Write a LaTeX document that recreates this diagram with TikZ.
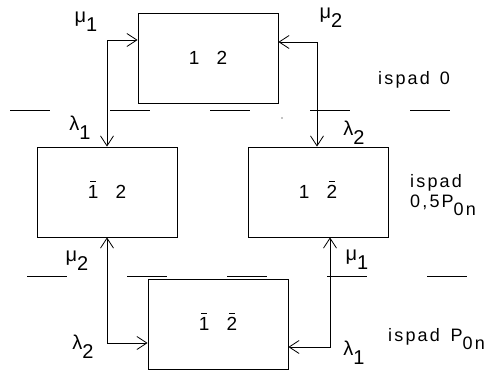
\documentclass[tikz,border=0pt]{standalone}
\usepackage{fontspec}
\setmainfont{Liberation Sans}
\usetikzlibrary{arrows.meta, positioning}
\newcommand{\lo}[1]{\raisebox{-0.45em}{#1}}
\newcommand{\bd}[1]{\ooalign{#1\cr\hidewidth\raisebox{0.88em}{\rule{0.32em}{0.06em}}\hidewidth\cr}}
\begin{document}
\begin{tikzpicture}[x=1pt, y=-1pt, >={Straight Barb[length=10pt, width=13pt]},
        statebox/.style={rectangle, draw, line width=0.8pt, minimum width=140pt, minimum height=90pt, inner sep=0pt, font=\fontsize{19}{22}\selectfont},
        rate/.style={inner sep=0pt, font=\fontsize{20}{22}\selectfont},
        note/.style={inner sep=0pt, align=left, font=\fontsize{18}{21}\selectfont\addfontfeature{LetterSpace=12}},
        arrow/.style={<->, line width=0.8pt},
        level/.style={line width=0.8pt}]
        \useasboundingbox (0,0) rectangle (494,370);

        \node[statebox] (s12) at (208,58) {1\hskip0.9em2};
        \node[statebox] (s1b2) at (107,192) {\bd{1}\hskip0.9em2};
        \node[statebox] (s12b) at (318,192) {1\hskip0.9em\bd{2}};
        \node[statebox] (s1b2b) at (218,324) {\bd{1}\hskip0.9em\bd{2}};

        \coordinate (c1) at (107,40);
        \coordinate (c2) at (317,42);
        \coordinate (c3) at (107,343);
        \coordinate (c4) at (330,347);
        \draw[arrow] (c1 -| s12.west) -- (c1) -- (c1 |- s1b2.north);
        \draw[arrow] (c2 -| s12.east) -- (c2) -- (c2 |- s12b.north);
        \draw[arrow] (c3 |- s1b2.south) -- (c3) -- (c3 -| s1b2b.west);
        \draw[arrow] (c4 |- s12b.south) -- (c4) -- (c4 -| s1b2b.east);

        \node[rate] (m1a) at (86,22) {μ\lo{1}};
        \node[rate] (l1a) at (80,128) {λ\lo{1}};
        \node[rate] (m2a) at (331,18) {μ\lo{2}};
        \node[rate] (l2a) at (354,133) {λ\lo{2}};
        \node[rate] (m2b) at (77,261) {μ\lo{2}};
        \node[rate] (l2b) at (83,347) {λ\lo{2}};
        \node[rate] (m1b) at (357,260) {μ\lo{1}};
        \node[rate] (l1b) at (354,353) {λ\lo{1}};

        \node[note, anchor=west] (n0) at (378,80) {ispad\hskip0.55em0};
        \node[note, anchor=north west] (n1) at (410,174) {ispad\\[-1pt]0,5P\lo{0n}};
        \node[note, anchor=west] (n2) at (388,339) {ispad\hskip0.6em P\lo{0n}};

        \foreach \x in {10,110,...,410}
            \draw[level] (\x,110) -- ++(40,0);
        \foreach \x in {27,127,...,427}
            \draw[level] (\x,276) -- ++(40,0);
        \fill (282,118) circle (0.6pt);
\end{tikzpicture}
\end{document}
